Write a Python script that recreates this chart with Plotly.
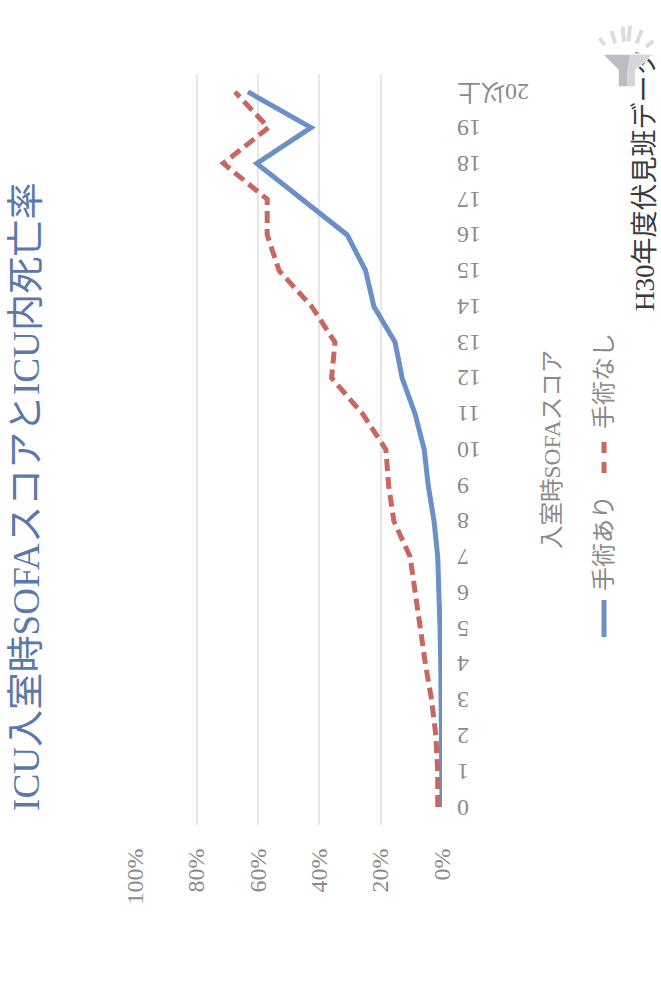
import plotly.graph_objects as go

W, H = 661, 995

scores = list(range(21))
tick_labels = [str(s) for s in range(20)] + ["20以上"]
with_surgery = [0, 0, 0, 0, 0.4, 0.65, 0.9, 1.4, 2.6, 4.5, 5.8, 8.8, 13, 15.3, 22.2, 24.9, 30.9, 45.7, 60.4, 42.7, 63.3]
no_surgery = [1.4, 1.4, 2, 3.4, 5.4, 7, 8.8, 10.4, 15.7, 17.4, 18.3, 25.9, 36, 34.9, 42.5, 53.1, 57, 57, 71.3, 56.6, 67.5]
pct_ticks = [0, 20, 40, 60, 80, 100]

TITLE = "ICU入室時SOFAスコアとICU内死亡率"
AXIS_TITLE = "入室時SOFAスコア"
SOURCE = "H30年度伏見班データ"
NAME_A = "手術あり"
NAME_B = "手術なし"

BLUE = "#6b8fc7"
RED = "#c9675f"
GRAY = "#8a8a8a"
GRID = "#e6e6e6"
FONT = "Liberation Serif, Noto Sans CJK JP"


def px(x):
    return x / W


def py(y):
    return 1 - y / H


def path(points):
    return "M" + " L".join(f"{px(x):.5f},{py(y):.5f}" for x, y in points) + " Z"


fig = go.Figure()
fig.add_trace(go.Scatter(x=with_surgery, y=scores, mode="lines", name=NAME_A,
                         line=dict(color=BLUE, width=5, dash="solid"), showlegend=False))
fig.add_trace(go.Scatter(x=no_surgery, y=scores, mode="lines", name=NAME_B,
                         line=dict(color=RED, width=5, dash="12px,6px"), showlegend=False))
# carrier trace for the source caption axis
fig.add_trace(go.Scatter(x=[0], y=[0], xaxis="x2", yaxis="y2", mode="lines",
                         showlegend=False, hoverinfo="skip"))


def seg(x0, y0, x1, y1, color, width):
    return dict(type="line", xref="paper", yref="paper", x0=px(x0), y0=py(y0), x1=px(x1), y1=py(y1),
                line=dict(color=color, width=width), layer="above")


shapes = [
    # legend keys
    seg(604, 600, 604, 637, BLUE, 5),
    seg(604, 442, 604, 453, RED, 5),
    seg(604, 462, 604, 473, RED, 5),
]

# funnel icon: rays, body, lighter right side
rays = [(28, 70, 45, 90), (65, 48, 75, 85), (98, 35, 102, 80), (120, 32, 115, 80), (155, 45, 140, 85), (190, 78, 168, 95)]
for a, b, c, d in rays:
    shapes.append(seg(590 + a / 3, 15 + b / 3, 590 + c / 3, 15 + d / 3, "#dcdcdc", 4))
shapes.append(dict(type="path", xref="paper", yref="paper", layer="above",
                   path=path([(602, 54), (653, 54), (635, 70), (635, 87), (618, 87), (618, 70)]),
                   fillcolor="#bcbcc4", line=dict(color="#ffffff", width=1.5)))
shapes.append(dict(type="path", xref="paper", yref="paper", layer="above",
                   path=path([(630, 55), (652, 55), (635, 70), (635, 86), (627, 86), (627, 70)]),
                   fillcolor="#d6d6da", line=dict(width=0)))


def label(text, x, y, size, color):
    return dict(text=text, xref="paper", yref="paper", x=px(x), y=py(y), textangle=-90,
                showarrow=False, xanchor="center", yanchor="middle",
                font=dict(family=FONT, size=size, color=color))


annotations = [
    label(TITLE, 26, 497, 37.2, "#5a78ab"),
    label(AXIS_TITLE, 552, 450, 23.5, GRAY),
    label(NAME_A, 604, 543, 24, GRAY),
    label(NAME_B, 604, 381, 24, GRAY),
]

fig.update_layout(
    template="none",
    width=W, height=H, autosize=False,
    margin=dict(l=0, r=0, t=0, b=0, autoexpand=False),
    paper_bgcolor="white", plot_bgcolor="white",
    showlegend=False,
    font=dict(family=FONT, size=24, color=GRAY),
    shapes=shapes, annotations=annotations,
    xaxis=dict(domain=[px(135.3), px(442)], range=[100, 0], tickvals=pct_ticks,
               ticktext=[f"{v}%" for v in pct_ticks], tickangle=-90, automargin=False,
               showgrid=True, gridcolor=GRID, gridwidth=2, zeroline=False, showline=False,
               ticks="outside", ticklen=13, tickcolor="rgba(0,0,0,0)",
               anchor="y", tickfont=dict(family=FONT, size=24, color=GRAY)),
    yaxis=dict(domain=[py(825), py(74)], range=[-0.5, 20.5], tickvals=scores, ticktext=tick_labels,
               tickangle=180, side="left", anchor="free", position=px(457), automargin=False,
               ticklabelshift=8,
               showgrid=False, zeroline=False, showline=False, ticks="",
               tickfont=dict(family=FONT, size=24, color=GRAY)),
    xaxis2=dict(domain=[px(644), px(646)], range=[-1, 1], tickvals=[0], ticktext=[SOURCE],
                tickangle=-90, anchor="y2", showgrid=False, zeroline=False, showline=False,
                automargin=False, ticks="", tickfont=dict(family=FONT, size=27, color="#3a3a3a")),
    yaxis2=dict(domain=[py(42), 1], range=[-1, 1], visible=False, anchor="x2", automargin=False),
)

fig.write_html("out.html")
